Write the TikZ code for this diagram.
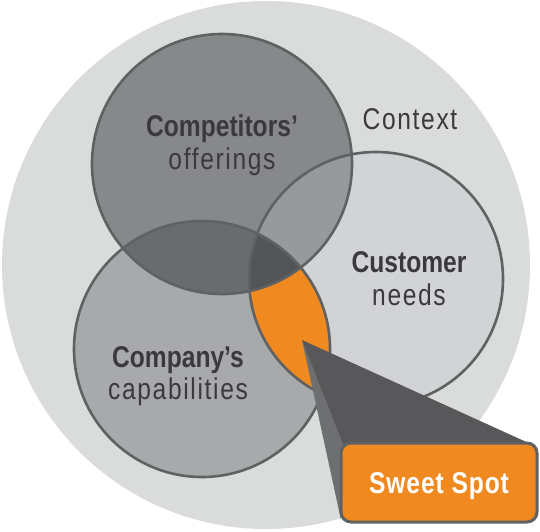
\documentclass[tikz,border=0pt]{standalone}
\usepackage{fontspec}
\setmainfont{Liberation Sans}
\newfontfamily\lblfont[FakeStretch=0.82]{Liberation Sans}
\newfontfamily\lblsp[FakeStretch=0.82,LetterSpace=5.5]{Liberation Sans}
\newfontfamily\lblspb[FakeStretch=0.82,LetterSpace=3]{Liberation Sans}
\definecolor{bgc}{HTML}{DADBDB}
\definecolor{custc}{HTML}{D2D3D5}
\definecolor{compyc}{HTML}{A8A9AB}
\definecolor{comptc}{HTML}{87888A}
\definecolor{ctcu}{HTML}{98999B}
\definecolor{ctcy}{HTML}{6A6B6D}
\definecolor{triple}{HTML}{535456}
\definecolor{sweet}{HTML}{F0891F}
\definecolor{olc}{HTML}{606163}
\definecolor{wedge}{HTML}{58585A}
\definecolor{wedgel}{HTML}{6E6F71}
\definecolor{txt}{HTML}{3A3A3C}
\begin{document}
\begin{tikzpicture}[x=1pt,y=-1pt,
  boldlbl/.style={text=txt,font=\lblfont\bfseries\fontsize{30}{32}\selectfont,inner sep=0pt,anchor=base},
  reglbl/.style={text=txt,font=\lblsp\fontsize{30}{32}\selectfont,inner sep=0pt,anchor=base},
  ring/.style={draw=olc,line width=2.6pt}]
\useasboundingbox (0,0) rectangle (540,531);
\coordinate (bgC) at (266,265);
\coordinate (ctC) at (222,164);
\coordinate (cuC) at (376,279);
\coordinate (cyC) at (202,349);
\def\rct{130}\def\rcu{127}\def\rcy{128}
% context
\fill[bgc] (bgC) circle[radius=264];
% base circles
\fill[custc] (cuC) circle[radius=\rcu];
\fill[compyc] (cyC) circle[radius=\rcy];
\begin{scope}
  \clip (cuC) circle[radius=\rcu];
  \fill[sweet] (cyC) circle[radius=\rcy];
\end{scope}
\fill[comptc] (ctC) circle[radius=\rct];
\begin{scope}
  \clip (ctC) circle[radius=\rct];
  \fill[ctcu] (cuC) circle[radius=\rcu];
  \fill[ctcy] (cyC) circle[radius=\rcy];
  \clip (cyC) circle[radius=\rcy];
  \fill[triple] (cuC) circle[radius=\rcu];
\end{scope}
% outlines
\draw[ring] (ctC) circle[radius=\rct];
\draw[ring] (cuC) circle[radius=\rcu];
\draw[ring] (cyC) circle[radius=\rcy];
% labels
\node[boldlbl] (ct1) at (222,136) {Competitors’};
\node[reglbl] (ct2) at (222,169) {offerings};
\node[reglbl] (ctx) at (410,129) {Context};
\node[boldlbl] (cu1) at (409,272) {Customer};
\node[reglbl] (cu2) at (409,305) {needs};
\node[boldlbl] (cy1) at (178,367) {Company’s};
\node[reglbl] (cy2) at (178,399) {capabilities};
% callout
\coordinate (tip) at (302,340);
\coordinate (bl) at (343,445);
\coordinate (br) at (533,445);
\coordinate (bb) at (341,520);
\fill[wedgel] (tip) -- (bl) -- (bb) -- cycle;
\fill[wedge] (tip) -- (bl) -- (br) -- cycle;
\node[draw=olc,line width=3pt,fill=sweet,rounded corners=10pt,minimum width=196pt,minimum height=79pt,inner sep=0pt,
  text=white,font=\lblspb\bfseries\fontsize{30}{32}\selectfont,text depth=0pt] (spot) at (439,482.5) {\raisebox{-1pt}{Sweet Spot}};
\end{tikzpicture}
\end{document}
